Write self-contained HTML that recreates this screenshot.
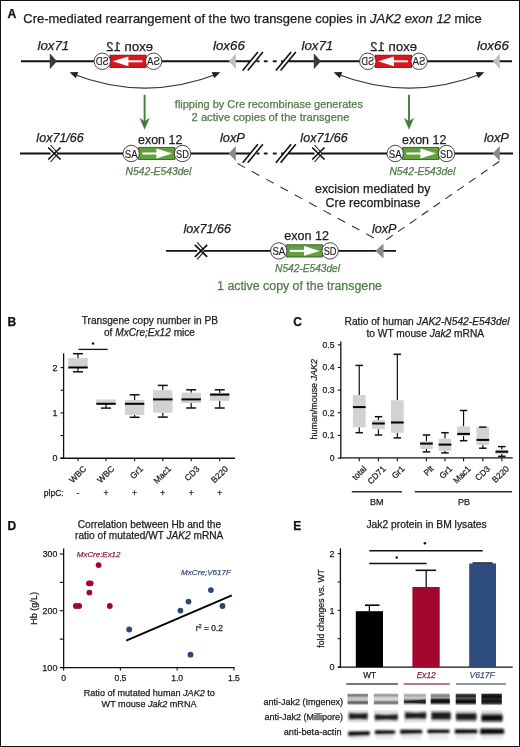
<!DOCTYPE html><html><head><meta charset="utf-8"><style>html,body{margin:0;padding:0;background:#fff;}svg{display:block;will-change:transform;filter:blur(0.3px);}text{font-family:"Liberation Sans", sans-serif;}</style></head><body>
<svg width="520" height="747" viewBox="0 0 520 747">
<rect x="0" y="0" width="520" height="747" fill="#fff"/>
<text x="7.60" y="17.6" font-size="12.2" font-weight="bold" fill="#111" stroke="#111" stroke-width="0.25">A</text>
<text x="23.35" y="22.7" font-size="12.6" fill="#1c1c1c" stroke="#1c1c1c" stroke-width="0.25" textLength="458.46" lengthAdjust="spacingAndGlyphs">Cre-mediated rearrangement of the two transgene copies in <tspan font-style="italic">JAK2 exon 12</tspan> mice</text>
<line x1="21" y1="61.3" x2="250.3" y2="61.3" stroke="#111" stroke-width="1.9" />
<line x1="288.5" y1="61.3" x2="512" y2="61.3" stroke="#111" stroke-width="1.9" />
<line x1="242.70000000000002" y1="70.6" x2="257.90000000000003" y2="52.0" stroke="#111" stroke-width="1.6" />
<line x1="247.70000000000002" y1="70.6" x2="262.90000000000003" y2="52.0" stroke="#111" stroke-width="1.6" />
<line x1="275.9" y1="70.6" x2="291.1" y2="52.0" stroke="#111" stroke-width="1.6" />
<line x1="280.59999999999997" y1="70.6" x2="295.8" y2="52.0" stroke="#111" stroke-width="1.6" />
<line x1="256.5" y1="61.3" x2="259.5" y2="61.3" stroke="#111" stroke-width="1.9" />
<line x1="263.8" y1="61.3" x2="267.6" y2="61.3" stroke="#111" stroke-width="1.9" />
<line x1="272.8" y1="61.3" x2="276.7" y2="61.3" stroke="#111" stroke-width="1.9" />
<line x1="281" y1="61.3" x2="284" y2="61.3" stroke="#111" stroke-width="1.9" />
<polygon points="49.8,53.349999999999994 56.9,61.3 49.8,69.25" fill="#383838"/>
<polygon points="235.8,53.599999999999994 228.9,61.3 235.8,69.0" fill="#bdbdbd"/>
<text x="37.55" y="50.2" font-size="12.4" font-style="italic" fill="#1c1c1c" stroke="#1c1c1c" stroke-width="0.25" textLength="31.69" lengthAdjust="spacingAndGlyphs">lox71</text>
<text x="213.00" y="50.2" font-size="12.4" font-style="italic" fill="#1c1c1c" stroke="#1c1c1c" stroke-width="0.25" textLength="31.77" lengthAdjust="spacingAndGlyphs">lox66</text>
<g transform="translate(255.89999999999998,0) scale(-1,1)">
<rect x="109.8" y="55.199999999999996" width="36.10000000000001" height="12.2" fill="#d9161e" stroke="#8c0c10" stroke-width="0.9"/>
<rect x="113.5" y="60.3" width="14.5" height="2.0" fill="#fff"/>
<polygon points="127.5,56.4 143.3,61.3 127.5,66.2" fill="#fff"/>
<circle cx="102.3" cy="61.3" r="8.2" fill="#fff" stroke="#333" stroke-width="0.9"/>
<text x="102.3" y="65.39999999999999" font-size="10.6" text-anchor="middle" fill="#1c1c1c" stroke="#1c1c1c" stroke-width="0.15" textLength="12.8" lengthAdjust="spacingAndGlyphs">SA</text>
<circle cx="153.6" cy="61.3" r="8.2" fill="#fff" stroke="#333" stroke-width="0.9"/>
<text x="153.6" y="65.39999999999999" font-size="10.6" text-anchor="middle" fill="#1c1c1c" stroke="#1c1c1c" stroke-width="0.15" textLength="12.8" lengthAdjust="spacingAndGlyphs">SD</text>
<text x="126.25" y="50.9" font-size="12.3" text-anchor="middle" fill="#1c1c1c" stroke="#1c1c1c" stroke-width="0.25" textLength="46.79" lengthAdjust="spacingAndGlyphs">exon 12</text>
</g>
<path d="M71.6,73.5 Q145.0,102.6 218.4,73.5" fill="none" stroke="#333" stroke-width="1.2"/>
<polygon points="69.6,72.2 75.82,78.22 78.25,72.08" fill="#222"/>
<polygon points="220.4,72.2 211.75,72.08 214.18,78.22" fill="#222"/>
<polygon points="313.8,53.349999999999994 320.9,61.3 313.8,69.25" fill="#383838"/>
<polygon points="499.8,53.599999999999994 492.9,61.3 499.8,69.0" fill="#bdbdbd"/>
<text x="301.55" y="50.2" font-size="12.4" font-style="italic" fill="#1c1c1c" stroke="#1c1c1c" stroke-width="0.25" textLength="31.69" lengthAdjust="spacingAndGlyphs">lox71</text>
<text x="477.00" y="50.2" font-size="12.4" font-style="italic" fill="#1c1c1c" stroke="#1c1c1c" stroke-width="0.25" textLength="31.77" lengthAdjust="spacingAndGlyphs">lox66</text>
<g transform="translate(786.9,0) scale(-1,1)">
<rect x="375.3" y="55.199999999999996" width="36.10000000000002" height="12.2" fill="#d9161e" stroke="#8c0c10" stroke-width="0.9"/>
<rect x="379.0" y="60.3" width="14.5" height="2.0" fill="#fff"/>
<polygon points="393.0,56.4 408.8,61.3 393.0,66.2" fill="#fff"/>
<circle cx="367.8" cy="61.3" r="8.2" fill="#fff" stroke="#333" stroke-width="0.9"/>
<text x="367.8" y="65.39999999999999" font-size="10.6" text-anchor="middle" fill="#1c1c1c" stroke="#1c1c1c" stroke-width="0.15" textLength="12.8" lengthAdjust="spacingAndGlyphs">SA</text>
<circle cx="419.1" cy="61.3" r="8.2" fill="#fff" stroke="#333" stroke-width="0.9"/>
<text x="419.1" y="65.39999999999999" font-size="10.6" text-anchor="middle" fill="#1c1c1c" stroke="#1c1c1c" stroke-width="0.15" textLength="12.8" lengthAdjust="spacingAndGlyphs">SD</text>
<text x="393.25" y="50.9" font-size="12.3" text-anchor="middle" fill="#1c1c1c" stroke="#1c1c1c" stroke-width="0.25" textLength="46.79" lengthAdjust="spacingAndGlyphs">exon 12</text>
</g>
<path d="M335.6,73.5 Q409.0,102.6 482.4,73.5" fill="none" stroke="#333" stroke-width="1.2"/>
<polygon points="333.6,72.2 339.82,78.22 342.25,72.08" fill="#222"/>
<polygon points="484.4,72.2 475.75,72.08 478.18,78.22" fill="#222"/>
<line x1="144.6" y1="94.7" x2="144.6" y2="122" stroke="#427d3c" stroke-width="1.9" />
<polygon points="139.9,118.3 144.6,121.6 149.29999999999998,118.3 144.6,129.2" fill="#427d3c" stroke="#427d3c" stroke-width="0.4" stroke-linejoin="round"/>
<line x1="409" y1="94.7" x2="409" y2="122" stroke="#427d3c" stroke-width="1.9" />
<polygon points="404.3,118.3 409,121.6 413.7,118.3 409,129.2" fill="#427d3c" stroke="#427d3c" stroke-width="0.4" stroke-linejoin="round"/>
<text x="268.88" y="108" font-size="11" text-anchor="middle" fill="#537a4b" stroke="#537a4b" stroke-width="0.25" textLength="188.08" lengthAdjust="spacingAndGlyphs">flipping by Cre recombinase generates</text>
<text x="270.50" y="121.3" font-size="11" text-anchor="middle" fill="#537a4b" stroke="#537a4b" stroke-width="0.25" textLength="157.84" lengthAdjust="spacingAndGlyphs">2 active copies of the transgene</text>
<line x1="20" y1="153.5" x2="250.3" y2="153.5" stroke="#111" stroke-width="1.9" />
<line x1="288.5" y1="153.5" x2="513" y2="153.5" stroke="#111" stroke-width="1.9" />
<line x1="242.70000000000002" y1="162.8" x2="257.90000000000003" y2="144.2" stroke="#111" stroke-width="1.6" />
<line x1="247.70000000000002" y1="162.8" x2="262.90000000000003" y2="144.2" stroke="#111" stroke-width="1.6" />
<line x1="275.9" y1="162.8" x2="291.1" y2="144.2" stroke="#111" stroke-width="1.6" />
<line x1="280.59999999999997" y1="162.8" x2="295.8" y2="144.2" stroke="#111" stroke-width="1.6" />
<line x1="256.5" y1="153.5" x2="259.5" y2="153.5" stroke="#111" stroke-width="1.9" />
<line x1="263.8" y1="153.5" x2="267.6" y2="153.5" stroke="#111" stroke-width="1.9" />
<line x1="272.8" y1="153.5" x2="276.7" y2="153.5" stroke="#111" stroke-width="1.9" />
<line x1="281" y1="153.5" x2="284" y2="153.5" stroke="#111" stroke-width="1.9" />
<polygon points="50.5,145.0 58.0,153.5 50.5,162.0" fill="#fff"/>
<polyline points="50.5,145.0 58.0,153.5 50.5,162.0" fill="none" stroke="#1a1a1a" stroke-width="1.1"/>
<line x1="48.2" y1="147.5" x2="60.5" y2="159.5" stroke="#111" stroke-width="1.7" />
<line x1="48.2" y1="159.5" x2="60.5" y2="147.5" stroke="#111" stroke-width="1.7" />
<text x="36.38" y="141.8" font-size="12.3" font-style="italic" fill="#1c1c1c" stroke="#1c1c1c" stroke-width="0.25" textLength="47.45" lengthAdjust="spacingAndGlyphs">lox71/66</text>
<rect x="138.7" y="147.4" width="36.099999999999994" height="12.2" fill="#62a03e" stroke="#2f5c20" stroke-width="0.9"/>
<rect x="142.39999999999998" y="152.5" width="14.5" height="2.0" fill="#fff"/>
<polygon points="156.39999999999998,148.6 172.2,153.5 156.39999999999998,158.4" fill="#fff"/>
<circle cx="131.2" cy="153.5" r="8.2" fill="#fff" stroke="#333" stroke-width="0.9"/>
<text x="131.2" y="157.6" font-size="10.6" text-anchor="middle" fill="#1c1c1c" stroke="#1c1c1c" stroke-width="0.15" textLength="12.8" lengthAdjust="spacingAndGlyphs">SA</text>
<circle cx="182.5" cy="153.5" r="8.2" fill="#fff" stroke="#333" stroke-width="0.9"/>
<text x="182.5" y="157.6" font-size="10.6" text-anchor="middle" fill="#1c1c1c" stroke="#1c1c1c" stroke-width="0.15" textLength="12.8" lengthAdjust="spacingAndGlyphs">SD</text>
<text x="160.20" y="143.7" font-size="12.3" text-anchor="middle" fill="#1c1c1c" stroke="#1c1c1c" stroke-width="0.25" textLength="44.23" lengthAdjust="spacingAndGlyphs">exon 12</text>
<text x="158.48" y="174.5" font-size="10.1" text-anchor="middle" font-style="italic" fill="#537a4b" stroke="#537a4b" stroke-width="0.25" textLength="65.85" lengthAdjust="spacingAndGlyphs">N542-E543del</text>
<polygon points="235.8,146.0 228.6,153.5 235.8,161.0" fill="#8a8a8a"/>
<text x="219.92" y="142" font-size="12.3" font-style="italic" fill="#1c1c1c" stroke="#1c1c1c" stroke-width="0.25" textLength="25.02" lengthAdjust="spacingAndGlyphs">loxP</text>
<polygon points="314.5,145.0 322.0,153.5 314.5,162.0" fill="#fff"/>
<polyline points="314.5,145.0 322.0,153.5 314.5,162.0" fill="none" stroke="#1a1a1a" stroke-width="1.1"/>
<line x1="312.2" y1="147.5" x2="324.5" y2="159.5" stroke="#111" stroke-width="1.7" />
<line x1="312.2" y1="159.5" x2="324.5" y2="147.5" stroke="#111" stroke-width="1.7" />
<text x="300.38" y="141.8" font-size="12.3" font-style="italic" fill="#1c1c1c" stroke="#1c1c1c" stroke-width="0.25" textLength="47.45" lengthAdjust="spacingAndGlyphs">lox71/66</text>
<rect x="402.7" y="147.4" width="36.10000000000002" height="12.2" fill="#62a03e" stroke="#2f5c20" stroke-width="0.9"/>
<rect x="406.4" y="152.5" width="14.5" height="2.0" fill="#fff"/>
<polygon points="420.4,148.6 436.2,153.5 420.4,158.4" fill="#fff"/>
<circle cx="395.2" cy="153.5" r="8.2" fill="#fff" stroke="#333" stroke-width="0.9"/>
<text x="395.2" y="157.6" font-size="10.6" text-anchor="middle" fill="#1c1c1c" stroke="#1c1c1c" stroke-width="0.15" textLength="12.8" lengthAdjust="spacingAndGlyphs">SA</text>
<circle cx="446.5" cy="153.5" r="8.2" fill="#fff" stroke="#333" stroke-width="0.9"/>
<text x="446.5" y="157.6" font-size="10.6" text-anchor="middle" fill="#1c1c1c" stroke="#1c1c1c" stroke-width="0.15" textLength="12.8" lengthAdjust="spacingAndGlyphs">SD</text>
<text x="424.20" y="143.7" font-size="12.3" text-anchor="middle" fill="#1c1c1c" stroke="#1c1c1c" stroke-width="0.25" textLength="44.22" lengthAdjust="spacingAndGlyphs">exon 12</text>
<text x="422.35" y="174.5" font-size="10.1" text-anchor="middle" font-style="italic" fill="#537a4b" stroke="#537a4b" stroke-width="0.25" textLength="65.85" lengthAdjust="spacingAndGlyphs">N542-E543del</text>
<polygon points="499.8,146.0 492.6,153.5 499.8,161.0" fill="#8a8a8a"/>
<text x="483.92" y="142" font-size="12.3" font-style="italic" fill="#1c1c1c" stroke="#1c1c1c" stroke-width="0.25" textLength="25.02" lengthAdjust="spacingAndGlyphs">loxP</text>
<line x1="237.5" y1="163.5" x2="378" y2="240.2" stroke="#333" stroke-width="1.1" stroke-dasharray="8.6 7.7"/>
<line x1="499.3" y1="161.5" x2="384.5" y2="241.0" stroke="#333" stroke-width="1.1" stroke-dasharray="8.0 6.4"/>
<text x="372.75" y="193.2" font-size="12.3" text-anchor="middle" fill="#1c1c1c" stroke="#1c1c1c" stroke-width="0.25" textLength="115.35" lengthAdjust="spacingAndGlyphs">excision mediated by</text>
<text x="373.00" y="207.2" font-size="12.3" text-anchor="middle" fill="#1c1c1c" stroke="#1c1c1c" stroke-width="0.25" textLength="94.91" lengthAdjust="spacingAndGlyphs">Cre recombinase</text>
<line x1="166" y1="250.9" x2="396" y2="250.9" stroke="#111" stroke-width="1.9" />
<polygon points="197.2,242.4 204.7,250.9 197.2,259.4" fill="#fff"/>
<polyline points="197.2,242.4 204.7,250.9 197.2,259.4" fill="none" stroke="#1a1a1a" stroke-width="1.1"/>
<line x1="194.89999999999998" y1="244.9" x2="207.2" y2="256.9" stroke="#111" stroke-width="1.7" />
<line x1="194.89999999999998" y1="256.9" x2="207.2" y2="244.9" stroke="#111" stroke-width="1.7" />
<text x="183.45" y="233" font-size="12.3" font-style="italic" fill="#1c1c1c" stroke="#1c1c1c" stroke-width="0.25" textLength="47.50" lengthAdjust="spacingAndGlyphs">lox71/66</text>
<rect x="286.3" y="244.8" width="36.10000000000002" height="12.2" fill="#62a03e" stroke="#2f5c20" stroke-width="0.9"/>
<rect x="290.0" y="249.9" width="14.5" height="2.0" fill="#fff"/>
<polygon points="304.0,246.0 319.8,250.9 304.0,255.8" fill="#fff"/>
<circle cx="278.8" cy="250.9" r="8.2" fill="#fff" stroke="#333" stroke-width="0.9"/>
<text x="278.8" y="255.0" font-size="10.6" text-anchor="middle" fill="#1c1c1c" stroke="#1c1c1c" stroke-width="0.15" textLength="12.8" lengthAdjust="spacingAndGlyphs">SA</text>
<circle cx="330.1" cy="250.9" r="8.2" fill="#fff" stroke="#333" stroke-width="0.9"/>
<text x="330.1" y="255.0" font-size="10.6" text-anchor="middle" fill="#1c1c1c" stroke="#1c1c1c" stroke-width="0.15" textLength="12.8" lengthAdjust="spacingAndGlyphs">SD</text>
<text x="306.70" y="240.3" font-size="12.3" text-anchor="middle" fill="#1c1c1c" stroke="#1c1c1c" stroke-width="0.25" textLength="44.64" lengthAdjust="spacingAndGlyphs">exon 12</text>
<text x="307.53" y="271.9" font-size="10.1" text-anchor="middle" font-style="italic" fill="#537a4b" stroke="#537a4b" stroke-width="0.25" textLength="64.90" lengthAdjust="spacingAndGlyphs">N542-E543del</text>
<polygon points="383.5,243.4 375.3,250.9 383.5,258.4" fill="#8a8a8a"/>
<text x="371.92" y="233.4" font-size="12.3" font-style="italic" fill="#1c1c1c" stroke="#1c1c1c" stroke-width="0.25" textLength="24.57" lengthAdjust="spacingAndGlyphs">loxP</text>
<text x="299.50" y="289.5" font-size="12.3" text-anchor="middle" fill="#537a4b" stroke="#537a4b" stroke-width="0.25" textLength="164.83" lengthAdjust="spacingAndGlyphs">1 active copy of the transgene</text>
<text x="7.60" y="326.3" font-size="12" font-weight="bold" fill="#111" stroke="#111" stroke-width="0.25">B</text>
<text x="149.85" y="324.4" font-size="10.1" text-anchor="middle" fill="#1c1c1c" stroke="#1c1c1c" stroke-width="0.25" textLength="136.27" lengthAdjust="spacingAndGlyphs">Transgene copy number in PB</text>
<text x="149.50" y="335.7" font-size="10.1" text-anchor="middle" fill="#1c1c1c" stroke="#1c1c1c" stroke-width="0.25" textLength="90.99" lengthAdjust="spacingAndGlyphs">of <tspan font-style="italic">MxCre;Ex12</tspan> mice</text>
<line x1="63.6" y1="353.3" x2="63.6" y2="458.8" stroke="#111" stroke-width="1.3" />
<line x1="60.3" y1="458.2" x2="235" y2="458.2" stroke="#111" stroke-width="1.4" />
<line x1="60.5" y1="458.2" x2="63.6" y2="458.2" stroke="#111" stroke-width="1.1" />
<text x="57.40" y="461.4" font-size="9" text-anchor="end" fill="#1c1c1c" stroke="#1c1c1c" stroke-width="0.25">0</text>
<line x1="60.5" y1="435.55" x2="63.6" y2="435.55" stroke="#111" stroke-width="1.1" />
<line x1="60.5" y1="412.9" x2="63.6" y2="412.9" stroke="#111" stroke-width="1.1" />
<text x="57.40" y="416.09999999999997" font-size="9" text-anchor="end" fill="#1c1c1c" stroke="#1c1c1c" stroke-width="0.25">1</text>
<line x1="60.5" y1="390.25" x2="63.6" y2="390.25" stroke="#111" stroke-width="1.1" />
<line x1="60.5" y1="367.6" x2="63.6" y2="367.6" stroke="#111" stroke-width="1.1" />
<text x="57.40" y="370.8" font-size="9" text-anchor="end" fill="#1c1c1c" stroke="#1c1c1c" stroke-width="0.25">2</text>
<line x1="78.0" y1="353.7" x2="78.0" y2="358" stroke="#111" stroke-width="1.2" />
<line x1="78.0" y1="367.5" x2="78.0" y2="371.8" stroke="#111" stroke-width="1.2" />
<rect x="68.3" y="358" width="19.4" height="9.5" fill="#d2d2d2"/>
<line x1="73.0" y1="353.7" x2="83.0" y2="353.7" stroke="#111" stroke-width="1.5" />
<line x1="73.0" y1="371.8" x2="83.0" y2="371.8" stroke="#111" stroke-width="1.5" />
<line x1="68.3" y1="367.5" x2="87.69999999999999" y2="367.5" stroke="#000" stroke-width="2.0" />
<line x1="78.0" y1="458.2" x2="78.0" y2="461.3" stroke="#111" stroke-width="1.1" />
<text transform="translate(86.9,469.5) rotate(-45)" font-size="8.5" text-anchor="end" font-style="normal" fill="#1c1c1c" stroke="#1c1c1c" stroke-width="0.25">WBC</text>
<text x="78.00" y="495.8" font-size="8.5" text-anchor="middle" fill="#1c1c1c" stroke="#1c1c1c" stroke-width="0.25">-</text>
<line x1="106.0" y1="403.8" x2="106.0" y2="408.1" stroke="#111" stroke-width="1.2" />
<rect x="96.3" y="399.5" width="19.4" height="4.300000000000011" fill="#d2d2d2"/>
<line x1="101.0" y1="408.1" x2="111.0" y2="408.1" stroke="#111" stroke-width="1.5" />
<line x1="96.3" y1="403.8" x2="115.69999999999999" y2="403.8" stroke="#000" stroke-width="2.0" />
<line x1="106.0" y1="458.2" x2="106.0" y2="461.3" stroke="#111" stroke-width="1.1" />
<text transform="translate(114.9,469.5) rotate(-45)" font-size="8.5" text-anchor="end" font-style="normal" fill="#1c1c1c" stroke="#1c1c1c" stroke-width="0.25">WBC</text>
<text x="106.00" y="495.8" font-size="8.5" text-anchor="middle" fill="#1c1c1c" stroke="#1c1c1c" stroke-width="0.25">+</text>
<line x1="134.6" y1="394.8" x2="134.6" y2="400" stroke="#111" stroke-width="1.2" />
<line x1="134.6" y1="415" x2="134.6" y2="417.3" stroke="#111" stroke-width="1.2" />
<rect x="124.9" y="400" width="19.4" height="15" fill="#d2d2d2"/>
<line x1="129.6" y1="394.8" x2="139.6" y2="394.8" stroke="#111" stroke-width="1.5" />
<line x1="129.6" y1="417.3" x2="139.6" y2="417.3" stroke="#111" stroke-width="1.5" />
<line x1="124.9" y1="403.8" x2="144.3" y2="403.8" stroke="#000" stroke-width="2.0" />
<line x1="134.6" y1="458.2" x2="134.6" y2="461.3" stroke="#111" stroke-width="1.1" />
<text transform="translate(143.5,469.5) rotate(-45)" font-size="8.5" text-anchor="end" font-style="normal" fill="#1c1c1c" stroke="#1c1c1c" stroke-width="0.25">Gr1</text>
<text x="134.60" y="495.8" font-size="8.5" text-anchor="middle" fill="#1c1c1c" stroke="#1c1c1c" stroke-width="0.25">+</text>
<line x1="162.79999999999998" y1="385.4" x2="162.79999999999998" y2="390.2" stroke="#111" stroke-width="1.2" />
<line x1="162.79999999999998" y1="412.7" x2="162.79999999999998" y2="417.1" stroke="#111" stroke-width="1.2" />
<rect x="153.1" y="390.2" width="19.4" height="22.5" fill="#d2d2d2"/>
<line x1="157.79999999999998" y1="385.4" x2="167.79999999999998" y2="385.4" stroke="#111" stroke-width="1.5" />
<line x1="157.79999999999998" y1="417.1" x2="167.79999999999998" y2="417.1" stroke="#111" stroke-width="1.5" />
<line x1="153.1" y1="399.4" x2="172.5" y2="399.4" stroke="#000" stroke-width="2.0" />
<line x1="162.79999999999998" y1="458.2" x2="162.79999999999998" y2="461.3" stroke="#111" stroke-width="1.1" />
<text transform="translate(171.7,469.5) rotate(-45)" font-size="8.5" text-anchor="end" font-style="normal" fill="#1c1c1c" stroke="#1c1c1c" stroke-width="0.25">Mac1</text>
<text x="162.80" y="495.8" font-size="8.5" text-anchor="middle" fill="#1c1c1c" stroke="#1c1c1c" stroke-width="0.25">+</text>
<line x1="191.2" y1="389.8" x2="191.2" y2="392.7" stroke="#111" stroke-width="1.2" />
<line x1="191.2" y1="403" x2="191.2" y2="408" stroke="#111" stroke-width="1.2" />
<rect x="181.5" y="392.7" width="19.4" height="10.300000000000011" fill="#d2d2d2"/>
<line x1="186.2" y1="389.8" x2="196.2" y2="389.8" stroke="#111" stroke-width="1.5" />
<line x1="186.2" y1="408" x2="196.2" y2="408" stroke="#111" stroke-width="1.5" />
<line x1="181.5" y1="399.4" x2="200.9" y2="399.4" stroke="#000" stroke-width="2.0" />
<line x1="191.2" y1="458.2" x2="191.2" y2="461.3" stroke="#111" stroke-width="1.1" />
<text transform="translate(200.1,469.5) rotate(-45)" font-size="8.5" text-anchor="end" font-style="normal" fill="#1c1c1c" stroke="#1c1c1c" stroke-width="0.25">CD3</text>
<text x="191.20" y="495.8" font-size="8.5" text-anchor="middle" fill="#1c1c1c" stroke="#1c1c1c" stroke-width="0.25">+</text>
<line x1="219.7" y1="389.8" x2="219.7" y2="393" stroke="#111" stroke-width="1.2" />
<line x1="219.7" y1="400.8" x2="219.7" y2="408" stroke="#111" stroke-width="1.2" />
<rect x="210" y="393" width="19.4" height="7.800000000000011" fill="#d2d2d2"/>
<line x1="214.7" y1="389.8" x2="224.7" y2="389.8" stroke="#111" stroke-width="1.5" />
<line x1="214.7" y1="408" x2="224.7" y2="408" stroke="#111" stroke-width="1.5" />
<line x1="210" y1="394.6" x2="229.4" y2="394.6" stroke="#000" stroke-width="2.0" />
<line x1="219.7" y1="458.2" x2="219.7" y2="461.3" stroke="#111" stroke-width="1.1" />
<text transform="translate(228.6,469.5) rotate(-45)" font-size="8.5" text-anchor="end" font-style="normal" fill="#1c1c1c" stroke="#1c1c1c" stroke-width="0.25">B220</text>
<text x="219.70" y="495.8" font-size="8.5" text-anchor="middle" fill="#1c1c1c" stroke="#1c1c1c" stroke-width="0.25">+</text>
<text x="43.77" y="495.8" font-size="8.5" fill="#1c1c1c" stroke="#1c1c1c" stroke-width="0.25" textLength="19.90" lengthAdjust="spacingAndGlyphs">plpC:</text>
<line x1="78.5" y1="349.4" x2="107.7" y2="349.4" stroke="#111" stroke-width="1.3" />
<circle cx="93.1" cy="343.6" r="1.25" fill="#111"/>
<text x="293.20" y="326.3" font-size="12" font-weight="bold" fill="#111" stroke="#111" stroke-width="0.25">C</text>
<text x="427.08" y="324.6" font-size="10.2" text-anchor="middle" fill="#1c1c1c" stroke="#1c1c1c" stroke-width="0.25" textLength="165.06" lengthAdjust="spacingAndGlyphs">Ratio of human <tspan font-style="italic">JAK2-N542-E543del</tspan></text>
<text x="425.30" y="337.4" font-size="10.2" text-anchor="middle" fill="#1c1c1c" stroke="#1c1c1c" stroke-width="0.25" textLength="117.64" lengthAdjust="spacingAndGlyphs">to WT mouse <tspan font-style="italic">Jak2</tspan> mRNA</text>
<line x1="340.8" y1="341.5" x2="340.8" y2="458.6" stroke="#111" stroke-width="1.3" />
<line x1="340.2" y1="457.9" x2="512.8" y2="457.9" stroke="#111" stroke-width="1.4" />
<line x1="337.8" y1="458.1" x2="340.8" y2="458.1" stroke="#111" stroke-width="1.1" />
<text x="334.50" y="461.1" font-size="8.6" text-anchor="end" fill="#1c1c1c" stroke="#1c1c1c" stroke-width="0.25">0</text>
<line x1="337.8" y1="435.44" x2="340.8" y2="435.44" stroke="#111" stroke-width="1.1" />
<text x="334.50" y="438.44" font-size="8.6" text-anchor="end" fill="#1c1c1c" stroke="#1c1c1c" stroke-width="0.25">0.1</text>
<line x1="337.8" y1="412.78000000000003" x2="340.8" y2="412.78000000000003" stroke="#111" stroke-width="1.1" />
<text x="334.50" y="415.78000000000003" font-size="8.6" text-anchor="end" fill="#1c1c1c" stroke="#1c1c1c" stroke-width="0.25">0.2</text>
<line x1="337.8" y1="390.12" x2="340.8" y2="390.12" stroke="#111" stroke-width="1.1" />
<text x="334.50" y="393.12" font-size="8.6" text-anchor="end" fill="#1c1c1c" stroke="#1c1c1c" stroke-width="0.25">0.3</text>
<line x1="337.8" y1="367.46000000000004" x2="340.8" y2="367.46000000000004" stroke="#111" stroke-width="1.1" />
<text x="334.50" y="370.46000000000004" font-size="8.6" text-anchor="end" fill="#1c1c1c" stroke="#1c1c1c" stroke-width="0.25">0.4</text>
<line x1="337.8" y1="344.8" x2="340.8" y2="344.8" stroke="#111" stroke-width="1.1" />
<text x="334.50" y="347.8" font-size="8.6" text-anchor="end" fill="#1c1c1c" stroke="#1c1c1c" stroke-width="0.25">0.5</text>
<text transform="translate(317.4,399.3) rotate(-90)" font-size="9.6" text-anchor="middle" fill="#1c1c1c" stroke="#1c1c1c" stroke-width="0.25" textLength="80.4" lengthAdjust="spacingAndGlyphs">human/mouse <tspan font-style="italic">JAK2</tspan></text>
<line x1="359.25" y1="365.4" x2="359.25" y2="395" stroke="#111" stroke-width="1.2" />
<line x1="359.25" y1="427.3" x2="359.25" y2="432.7" stroke="#111" stroke-width="1.2" />
<rect x="352.9" y="395" width="12.7" height="32.30000000000001" fill="#d2d2d2"/>
<line x1="355.5" y1="365.4" x2="363.0" y2="365.4" stroke="#111" stroke-width="1.5" />
<line x1="355.5" y1="432.7" x2="363.0" y2="432.7" stroke="#111" stroke-width="1.5" />
<line x1="352.9" y1="407.1" x2="365.59999999999997" y2="407.1" stroke="#000" stroke-width="2.0" />
<line x1="359.25" y1="457.9" x2="359.25" y2="461.2" stroke="#111" stroke-width="1.1" />
<text transform="translate(367.05,469.3) rotate(-45)" font-size="8.5" text-anchor="end" font-style="normal" fill="#1c1c1c" stroke="#1c1c1c" stroke-width="0.25">total</text>
<line x1="378.45000000000005" y1="416.7" x2="378.45000000000005" y2="420" stroke="#111" stroke-width="1.2" />
<line x1="378.45000000000005" y1="429.2" x2="378.45000000000005" y2="435" stroke="#111" stroke-width="1.2" />
<rect x="372.1" y="420" width="12.7" height="9.199999999999989" fill="#d2d2d2"/>
<line x1="374.70000000000005" y1="416.7" x2="382.20000000000005" y2="416.7" stroke="#111" stroke-width="1.5" />
<line x1="374.70000000000005" y1="435" x2="382.20000000000005" y2="435" stroke="#111" stroke-width="1.5" />
<line x1="372.1" y1="423.5" x2="384.8" y2="423.5" stroke="#000" stroke-width="2.0" />
<line x1="378.45000000000005" y1="457.9" x2="378.45000000000005" y2="461.2" stroke="#111" stroke-width="1.1" />
<text transform="translate(386.25000000000006,469.3) rotate(-45)" font-size="8.5" text-anchor="end" font-style="normal" fill="#1c1c1c" stroke="#1c1c1c" stroke-width="0.25">CD71</text>
<line x1="397.35" y1="354.3" x2="397.35" y2="400.3" stroke="#111" stroke-width="1.2" />
<line x1="397.35" y1="432.8" x2="397.35" y2="437.9" stroke="#111" stroke-width="1.2" />
<rect x="391" y="400.3" width="12.7" height="32.5" fill="#d2d2d2"/>
<line x1="393.6" y1="354.3" x2="401.1" y2="354.3" stroke="#111" stroke-width="1.5" />
<line x1="393.6" y1="437.9" x2="401.1" y2="437.9" stroke="#111" stroke-width="1.5" />
<line x1="391" y1="422.5" x2="403.7" y2="422.5" stroke="#000" stroke-width="2.0" />
<line x1="397.35" y1="457.9" x2="397.35" y2="461.2" stroke="#111" stroke-width="1.1" />
<text transform="translate(405.15000000000003,469.3) rotate(-45)" font-size="8.5" text-anchor="end" font-style="normal" fill="#1c1c1c" stroke="#1c1c1c" stroke-width="0.25">Gr1</text>
<line x1="426.45000000000005" y1="435" x2="426.45000000000005" y2="441.3" stroke="#111" stroke-width="1.2" />
<line x1="426.45000000000005" y1="449" x2="426.45000000000005" y2="451.9" stroke="#111" stroke-width="1.2" />
<rect x="420.1" y="441.3" width="12.7" height="7.699999999999989" fill="#d2d2d2"/>
<line x1="422.70000000000005" y1="435" x2="430.20000000000005" y2="435" stroke="#111" stroke-width="1.5" />
<line x1="422.70000000000005" y1="451.9" x2="430.20000000000005" y2="451.9" stroke="#111" stroke-width="1.5" />
<line x1="420.1" y1="443.6" x2="432.8" y2="443.6" stroke="#000" stroke-width="2.0" />
<line x1="426.45000000000005" y1="457.9" x2="426.45000000000005" y2="461.2" stroke="#111" stroke-width="1.1" />
<text transform="translate(434.25000000000006,469.3) rotate(-45)" font-size="8.5" text-anchor="end" font-style="normal" fill="#1c1c1c" stroke="#1c1c1c" stroke-width="0.25">Plt</text>
<line x1="444.95000000000005" y1="432.7" x2="444.95000000000005" y2="438.6" stroke="#111" stroke-width="1.2" />
<line x1="444.95000000000005" y1="450.8" x2="444.95000000000005" y2="452.9" stroke="#111" stroke-width="1.2" />
<rect x="438.6" y="438.6" width="12.7" height="12.199999999999989" fill="#d2d2d2"/>
<line x1="441.20000000000005" y1="432.7" x2="448.70000000000005" y2="432.7" stroke="#111" stroke-width="1.5" />
<line x1="441.20000000000005" y1="452.9" x2="448.70000000000005" y2="452.9" stroke="#111" stroke-width="1.5" />
<line x1="438.6" y1="444.6" x2="451.3" y2="444.6" stroke="#000" stroke-width="2.0" />
<line x1="444.95000000000005" y1="457.9" x2="444.95000000000005" y2="461.2" stroke="#111" stroke-width="1.1" />
<text transform="translate(452.75000000000006,469.3) rotate(-45)" font-size="8.5" text-anchor="end" font-style="normal" fill="#1c1c1c" stroke="#1c1c1c" stroke-width="0.25">Gr1</text>
<line x1="463.55" y1="410.5" x2="463.55" y2="426.4" stroke="#111" stroke-width="1.2" />
<line x1="463.55" y1="436" x2="463.55" y2="440.7" stroke="#111" stroke-width="1.2" />
<rect x="457.2" y="426.4" width="12.7" height="9.600000000000023" fill="#d2d2d2"/>
<line x1="459.8" y1="410.5" x2="467.3" y2="410.5" stroke="#111" stroke-width="1.5" />
<line x1="459.8" y1="440.7" x2="467.3" y2="440.7" stroke="#111" stroke-width="1.5" />
<line x1="457.2" y1="433.9" x2="469.9" y2="433.9" stroke="#000" stroke-width="2.0" />
<line x1="463.55" y1="457.9" x2="463.55" y2="461.2" stroke="#111" stroke-width="1.1" />
<text transform="translate(471.35,469.3) rotate(-45)" font-size="8.5" text-anchor="end" font-style="normal" fill="#1c1c1c" stroke="#1c1c1c" stroke-width="0.25">Mac1</text>
<line x1="482.85" y1="445" x2="482.85" y2="448.2" stroke="#111" stroke-width="1.2" />
<rect x="476.5" y="427.1" width="12.7" height="17.899999999999977" fill="#d2d2d2"/>
<line x1="479.1" y1="427.1" x2="486.6" y2="427.1" stroke="#111" stroke-width="1.5" />
<line x1="479.1" y1="448.2" x2="486.6" y2="448.2" stroke="#111" stroke-width="1.5" />
<line x1="476.5" y1="439.9" x2="489.2" y2="439.9" stroke="#000" stroke-width="2.0" />
<line x1="482.85" y1="457.9" x2="482.85" y2="461.2" stroke="#111" stroke-width="1.1" />
<text transform="translate(490.65000000000003,469.3) rotate(-45)" font-size="8.5" text-anchor="end" font-style="normal" fill="#1c1c1c" stroke="#1c1c1c" stroke-width="0.25">CD3</text>
<line x1="501.85" y1="446.6" x2="501.85" y2="449.6" stroke="#111" stroke-width="1.2" />
<line x1="501.85" y1="454" x2="501.85" y2="456.3" stroke="#111" stroke-width="1.2" />
<rect x="495.5" y="449.6" width="12.7" height="4.399999999999977" fill="#d2d2d2"/>
<line x1="498.1" y1="446.6" x2="505.6" y2="446.6" stroke="#111" stroke-width="1.5" />
<line x1="498.1" y1="456.3" x2="505.6" y2="456.3" stroke="#111" stroke-width="1.5" />
<line x1="495.5" y1="451.7" x2="508.2" y2="451.7" stroke="#000" stroke-width="2.0" />
<line x1="501.85" y1="457.9" x2="501.85" y2="461.2" stroke="#111" stroke-width="1.1" />
<text transform="translate(509.65000000000003,469.3) rotate(-45)" font-size="8.5" text-anchor="end" font-style="normal" fill="#1c1c1c" stroke="#1c1c1c" stroke-width="0.25">B220</text>
<line x1="351.8" y1="491.8" x2="402" y2="491.8" stroke="#333" stroke-width="1.5" />
<line x1="414.7" y1="491.8" x2="512" y2="491.8" stroke="#333" stroke-width="1.5" />
<text x="376.70" y="504.6" font-size="9" text-anchor="middle" fill="#1c1c1c" stroke="#1c1c1c" stroke-width="0.25">BM</text>
<text x="464.00" y="504.6" font-size="9" text-anchor="middle" fill="#1c1c1c" stroke="#1c1c1c" stroke-width="0.25">PB</text>
<text x="7.60" y="530" font-size="12" font-weight="bold" fill="#111" stroke="#111" stroke-width="0.25">D</text>
<text x="149.42" y="528" font-size="10.1" text-anchor="middle" fill="#1c1c1c" stroke="#1c1c1c" stroke-width="0.25" textLength="143.39" lengthAdjust="spacingAndGlyphs">Correlation between Hb and the</text>
<text x="149.17" y="539.4" font-size="10.1" text-anchor="middle" fill="#1c1c1c" stroke="#1c1c1c" stroke-width="0.25" textLength="148.24" lengthAdjust="spacingAndGlyphs">ratio of mutated/WT <tspan font-style="italic">JAK2</tspan> mRNA</text>
<line x1="63.65" y1="548.5" x2="63.65" y2="668.2" stroke="#111" stroke-width="1.3" />
<line x1="60.3" y1="667.6" x2="234.5" y2="667.6" stroke="#111" stroke-width="1.4" />
<line x1="59.8" y1="667.5" x2="63.65" y2="667.5" stroke="#111" stroke-width="1.1" />
<text x="57.48" y="670.7" font-size="9" text-anchor="end" fill="#1c1c1c" stroke="#1c1c1c" stroke-width="0.25" textLength="15.14" lengthAdjust="spacingAndGlyphs">100</text>
<line x1="59.8" y1="639.125" x2="63.65" y2="639.125" stroke="#111" stroke-width="1.1" />
<line x1="59.8" y1="610.75" x2="63.65" y2="610.75" stroke="#111" stroke-width="1.1" />
<text x="57.48" y="613.95" font-size="9" text-anchor="end" fill="#1c1c1c" stroke="#1c1c1c" stroke-width="0.25" textLength="14.88" lengthAdjust="spacingAndGlyphs">200</text>
<line x1="59.8" y1="582.375" x2="63.65" y2="582.375" stroke="#111" stroke-width="1.1" />
<line x1="59.8" y1="554.0" x2="63.65" y2="554.0" stroke="#111" stroke-width="1.1" />
<text x="57.35" y="557.2" font-size="9" text-anchor="end" fill="#1c1c1c" stroke="#1c1c1c" stroke-width="0.25" textLength="14.62" lengthAdjust="spacingAndGlyphs">300</text>
<line x1="63.65" y1="667.6" x2="63.65" y2="670.6" stroke="#111" stroke-width="1.1" />
<text x="63.65" y="680.9" font-size="8.6" text-anchor="middle" fill="#1c1c1c" stroke="#1c1c1c" stroke-width="0.25">0</text>
<line x1="120.4" y1="667.6" x2="120.4" y2="670.6" stroke="#111" stroke-width="1.1" />
<text x="120.40" y="680.9" font-size="8.6" text-anchor="middle" fill="#1c1c1c" stroke="#1c1c1c" stroke-width="0.25">0.5</text>
<line x1="177.15" y1="667.6" x2="177.15" y2="670.6" stroke="#111" stroke-width="1.1" />
<text x="177.15" y="680.9" font-size="8.6" text-anchor="middle" fill="#1c1c1c" stroke="#1c1c1c" stroke-width="0.25">1.0</text>
<line x1="233.9" y1="667.6" x2="233.9" y2="670.6" stroke="#111" stroke-width="1.1" />
<text x="233.90" y="680.9" font-size="8.6" text-anchor="middle" fill="#1c1c1c" stroke="#1c1c1c" stroke-width="0.25">1.5</text>
<text transform="translate(37.0,608.4) rotate(-90)" font-size="9.6" text-anchor="middle" fill="#1c1c1c" stroke="#1c1c1c" stroke-width="0.25" textLength="32.6" lengthAdjust="spacingAndGlyphs">Hb (g/L)</text>
<text x="149.30" y="695.9" font-size="9" text-anchor="middle" fill="#1c1c1c" stroke="#1c1c1c" stroke-width="0.25" textLength="131.05" lengthAdjust="spacingAndGlyphs">Ratio of mutated human <tspan font-style="italic">JAK2</tspan> to</text>
<text x="149.10" y="707.4" font-size="9" text-anchor="middle" fill="#1c1c1c" stroke="#1c1c1c" stroke-width="0.25" textLength="95.01" lengthAdjust="spacingAndGlyphs">WT mouse <tspan font-style="italic">Jak2</tspan> mRNA</text>
<text x="76.82" y="557" font-size="7.9" font-style="italic" fill="#8a2347" stroke="#8a2347" stroke-width="0.25" textLength="43.62" lengthAdjust="spacingAndGlyphs">MxCre:Ex12</text>
<text x="181.05" y="575" font-size="8.1" font-style="italic" fill="#44537a" stroke="#44537a" stroke-width="0.25" textLength="49.94" lengthAdjust="spacingAndGlyphs">MxCre;V617F</text>
<circle cx="98.6" cy="565.1" r="2.9" fill="#a0072b"/>
<circle cx="88.9" cy="583.3" r="2.9" fill="#a0072b"/>
<circle cx="90.7" cy="583.3" r="2.9" fill="#a0072b"/>
<circle cx="89.4" cy="592.6" r="2.9" fill="#a0072b"/>
<circle cx="75.9" cy="606" r="2.9" fill="#a0072b"/>
<circle cx="79.1" cy="606" r="2.9" fill="#a0072b"/>
<circle cx="109.8" cy="606" r="2.9" fill="#a0072b"/>
<circle cx="129.2" cy="629.5" r="2.9" fill="#2c4574"/>
<circle cx="180.4" cy="610.6" r="2.9" fill="#2c4574"/>
<circle cx="188.5" cy="601.6" r="2.9" fill="#2c4574"/>
<circle cx="210.9" cy="590.1" r="2.9" fill="#2c4574"/>
<circle cx="222.5" cy="606" r="2.9" fill="#2c4574"/>
<circle cx="190.5" cy="654.7" r="2.9" fill="#2c4574"/>
<line x1="126.2" y1="640.6" x2="231.8" y2="595.4" stroke="#000" stroke-width="1.8" />
<text x="195.80" y="631.3" font-size="8.2" fill="#1c1c1c" stroke="#1c1c1c" stroke-width="0.25" textLength="27.03" lengthAdjust="spacingAndGlyphs">r<tspan font-size="5.5" dy="-3.2">2</tspan><tspan dy="3.2"> = 0.2</tspan></text>
<text x="293.20" y="529.6" font-size="12" font-weight="bold" fill="#111" stroke="#111" stroke-width="0.25">E</text>
<text x="426.55" y="528.3" font-size="10.3" text-anchor="middle" fill="#1c1c1c" stroke="#1c1c1c" stroke-width="0.25" textLength="120.29" lengthAdjust="spacingAndGlyphs">Jak2 protein in BM lysates</text>
<line x1="340.4" y1="548.3" x2="340.4" y2="667.6" stroke="#111" stroke-width="1.3" />
<line x1="338" y1="667.1" x2="512.8" y2="667.1" stroke="#111" stroke-width="1.4" />
<line x1="337.7" y1="667.1" x2="340.4" y2="667.1" stroke="#111" stroke-width="1.1" />
<text x="334.60" y="670.3000000000001" font-size="9" text-anchor="end" fill="#1c1c1c" stroke="#1c1c1c" stroke-width="0.25">0</text>
<line x1="337.7" y1="638.725" x2="340.4" y2="638.725" stroke="#111" stroke-width="1.1" />
<line x1="337.7" y1="610.35" x2="340.4" y2="610.35" stroke="#111" stroke-width="1.1" />
<text x="334.60" y="613.5500000000001" font-size="9" text-anchor="end" fill="#1c1c1c" stroke="#1c1c1c" stroke-width="0.25">1</text>
<line x1="337.7" y1="581.975" x2="340.4" y2="581.975" stroke="#111" stroke-width="1.1" />
<line x1="337.7" y1="553.6" x2="340.4" y2="553.6" stroke="#111" stroke-width="1.1" />
<text x="334.60" y="556.8000000000001" font-size="9" text-anchor="end" fill="#1c1c1c" stroke="#1c1c1c" stroke-width="0.25">2</text>
<text transform="translate(323.8,608.4) rotate(-90)" font-size="9.3" text-anchor="middle" fill="#1c1c1c" stroke="#1c1c1c" stroke-width="0.25" textLength="78.6" lengthAdjust="spacingAndGlyphs">fold changes vs. WT</text>
<rect x="355.8" y="611.2" width="27.2" height="55.89999999999998" fill="#000"/>
<line x1="369.4" y1="611.2" x2="369.4" y2="605.2" stroke="#000" stroke-width="1.3" />
<line x1="365" y1="605.2" x2="379.5" y2="605.2" stroke="#000" stroke-width="1.6" />
<rect x="412.4" y="587" width="27.3" height="80.10000000000002" fill="#a3072b"/>
<line x1="426.2" y1="587" x2="426.2" y2="570.3" stroke="#111" stroke-width="1.3" />
<line x1="415.6" y1="570.3" x2="436.2" y2="570.3" stroke="#111" stroke-width="1.6" />
<rect x="469.2" y="563.5" width="26.8" height="103.60000000000002" fill="#2f4c7e"/>
<line x1="472.6" y1="563" x2="492.7" y2="563" stroke="#111" stroke-width="1.4" />
<line x1="369.3" y1="550.8" x2="482.7" y2="550.8" stroke="#111" stroke-width="1.4" />
<line x1="369.3" y1="563.5" x2="426.6" y2="563.5" stroke="#111" stroke-width="1.4" />
<circle cx="424.9" cy="543.2" r="1.25" fill="#111"/>
<circle cx="396.7" cy="557.6" r="1.25" fill="#111"/>
<text x="369.58" y="678" font-size="8.4" text-anchor="middle" fill="#1c1c1c" stroke="#1c1c1c" stroke-width="0.25" textLength="12.83" lengthAdjust="spacingAndGlyphs">WT</text>
<text x="426.20" y="678" font-size="9" text-anchor="middle" font-style="italic" fill="#8c1f45" stroke="#8c1f45" stroke-width="0.25" textLength="18.74" lengthAdjust="spacingAndGlyphs">Ex12</text>
<text x="482.18" y="678" font-size="9" text-anchor="middle" font-style="italic" fill="#4a5475" stroke="#4a5475" stroke-width="0.25" textLength="25.42" lengthAdjust="spacingAndGlyphs">V617F</text>
<line x1="346.3" y1="684" x2="398" y2="684" stroke="#4a4a4a" stroke-width="1.6" />
<line x1="403.8" y1="684" x2="449.8" y2="684" stroke="#94505f" stroke-width="1.6" />
<line x1="456" y1="684" x2="506" y2="684" stroke="#6e7688" stroke-width="1.6" />
<text x="343.10" y="705.3" font-size="9.011" text-anchor="end" fill="#1c1c1c" stroke="#1c1c1c" stroke-width="0.25">anti-Jak2 (Imgenex)</text>
<text x="343.10" y="720.0" font-size="9.009" text-anchor="end" fill="#1c1c1c" stroke="#1c1c1c" stroke-width="0.25">anti-Jak2 (Millipore)</text>
<text x="341.50" y="734.6" font-size="9.112" text-anchor="end" fill="#1c1c1c" stroke="#1c1c1c" stroke-width="0.25">anti-beta-actin</text>
<defs><filter id="bl" x="-20%" y="-60%" width="140%" height="220%"><feGaussianBlur stdDeviation="0.85"/></filter><filter id="bl2" x="-20%" y="-60%" width="140%" height="220%"><feGaussianBlur stdDeviation="0.5"/></filter><linearGradient id="r1l1" x1="0" y1="0" x2="0" y2="1"><stop offset="0" stop-color="#e2e2e2"/><stop offset="0.1" stop-color="#8e8e8e"/><stop offset="0.2" stop-color="#7a7a7a"/><stop offset="0.35" stop-color="#bcbcbc"/><stop offset="0.55" stop-color="#cecece"/><stop offset="0.72" stop-color="#747474"/><stop offset="0.82" stop-color="#565656"/><stop offset="0.93" stop-color="#b4b4b4"/><stop offset="1" stop-color="#e8e8e8"/></linearGradient><linearGradient id="r1l2" x1="0" y1="0" x2="0" y2="1"><stop offset="0" stop-color="#e8e8e8"/><stop offset="0.1" stop-color="#a8a8a8"/><stop offset="0.2" stop-color="#9a9a9a"/><stop offset="0.35" stop-color="#cecece"/><stop offset="0.55" stop-color="#dadada"/><stop offset="0.72" stop-color="#8a8a8a"/><stop offset="0.82" stop-color="#666666"/><stop offset="0.93" stop-color="#bcbcbc"/><stop offset="1" stop-color="#ececec"/></linearGradient><linearGradient id="r1l3" x1="0" y1="0" x2="0" y2="1"><stop offset="0" stop-color="#e6e6e6"/><stop offset="0.12" stop-color="#b4b4b4"/><stop offset="0.22" stop-color="#a8a8a8"/><stop offset="0.38" stop-color="#d0d0d0"/><stop offset="0.52" stop-color="#9a9a9a"/><stop offset="0.68" stop-color="#3a3a3a"/><stop offset="0.8" stop-color="#5a5a5a"/><stop offset="0.92" stop-color="#b8b8b8"/><stop offset="1" stop-color="#eaeaea"/></linearGradient><linearGradient id="r1l4" x1="0" y1="0" x2="0" y2="1"><stop offset="0" stop-color="#d8d8d8"/><stop offset="0.12" stop-color="#909090"/><stop offset="0.24" stop-color="#7e7e7e"/><stop offset="0.38" stop-color="#a8a8a8"/><stop offset="0.5" stop-color="#3a3a3a"/><stop offset="0.62" stop-color="#0e0e0e"/><stop offset="0.78" stop-color="#161616"/><stop offset="0.9" stop-color="#8a8a8a"/><stop offset="1" stop-color="#e2e2e2"/></linearGradient><linearGradient id="r1l5" x1="0" y1="0" x2="0" y2="1"><stop offset="0" stop-color="#c0c0c0"/><stop offset="0.12" stop-color="#3a3a3a"/><stop offset="0.25" stop-color="#1e1e1e"/><stop offset="0.4" stop-color="#5a5a5a"/><stop offset="0.52" stop-color="#3a3a3a"/><stop offset="0.64" stop-color="#0e0e0e"/><stop offset="0.8" stop-color="#161616"/><stop offset="0.92" stop-color="#8a8a8a"/><stop offset="1" stop-color="#dcdcdc"/></linearGradient><linearGradient id="r1l6" x1="0" y1="0" x2="0" y2="1"><stop offset="0" stop-color="#b8b8b8"/><stop offset="0.1" stop-color="#262626"/><stop offset="0.3" stop-color="#0e0e0e"/><stop offset="0.48" stop-color="#2e2e2e"/><stop offset="0.66" stop-color="#0c0c0c"/><stop offset="0.86" stop-color="#3a3a3a"/><stop offset="1" stop-color="#d8d8d8"/></linearGradient><linearGradient id="r1l3h" x1="0" y1="0" x2="1" y2="0"><stop offset="0" stop-color="#ffffff"/><stop offset="0.5" stop-color="#ffffff"/><stop offset="1" stop-color="#ffffff"/></linearGradient><linearGradient id="r2a" x1="0" y1="0" x2="0" y2="1"><stop offset="0" stop-color="#e4e4e4"/><stop offset="0.2" stop-color="#5a5a5a"/><stop offset="0.35" stop-color="#1c1c1c"/><stop offset="0.65" stop-color="#202020"/><stop offset="0.82" stop-color="#6a6a6a"/><stop offset="1" stop-color="#e8e8e8"/></linearGradient><linearGradient id="r2b" x1="0" y1="0" x2="0" y2="1"><stop offset="0" stop-color="#d4d4d4"/><stop offset="0.12" stop-color="#3a3a3a"/><stop offset="0.25" stop-color="#0e0e0e"/><stop offset="0.5" stop-color="#262626"/><stop offset="0.75" stop-color="#0e0e0e"/><stop offset="0.9" stop-color="#505050"/><stop offset="1" stop-color="#dcdcdc"/></linearGradient><linearGradient id="r2c" x1="0" y1="0" x2="0" y2="1"><stop offset="0" stop-color="#e0e0e0"/><stop offset="0.2" stop-color="#303030"/><stop offset="0.3" stop-color="#0a0a0a"/><stop offset="0.7" stop-color="#0a0a0a"/><stop offset="0.88" stop-color="#505050"/><stop offset="1" stop-color="#e4e4e4"/></linearGradient><linearGradient id="r3" x1="0" y1="0" x2="0" y2="1"><stop offset="0" stop-color="#ffffff"/><stop offset="0.5" stop-color="#f0f0f0"/><stop offset="1" stop-color="#ffffff"/></linearGradient></defs>
<g filter="url(#bl2)">
<rect x="347.5" y="693.3" width="20.399999999999977" height="11.8" fill="url(#r1l1)"/>
<rect x="373.8" y="693.3" width="24.399999999999977" height="11.8" fill="url(#r1l2)"/>
<rect x="403.8" y="693.3" width="22.099999999999966" height="11.8" fill="url(#r1l3)"/>
<rect x="430.7" y="693.3" width="19.100000000000023" height="11.8" fill="url(#r1l4)"/>
<rect x="455.7" y="693.3" width="20.19999999999999" height="11.8" fill="url(#r1l5)"/>
<rect x="481.4" y="693.3" width="20.400000000000034" height="11.8" fill="url(#r1l6)"/>
<polygon points="404.5,701.2 425.5,699.6 425.5,703.6 404.5,702.6" fill="#1a1a1a" opacity="0.75"/>
</g>
<g filter="url(#bl2)">
<rect x="347.5" y="710.2" width="20.399999999999977" height="12.3" fill="#e3e3e3"/>
<rect x="373.8" y="710.2" width="24.399999999999977" height="12.3" fill="#e3e3e3"/>
<rect x="403.8" y="710.2" width="22.099999999999966" height="12.3" fill="#e3e3e3"/>
<rect x="430.7" y="710.2" width="19.100000000000023" height="12.3" fill="#e3e3e3"/>
<rect x="455.7" y="710.2" width="20.19999999999999" height="12.3" fill="#e3e3e3"/>
<rect x="481.4" y="710.2" width="20.400000000000034" height="12.3" fill="#e3e3e3"/>
</g>
<g filter="url(#bl)">
<path d="M349.3,713.1 Q358.25,714.5 367.2,713.1 Q368.3,716.2 367.2,719.3 Q358.25,718.3 349.3,719.3 Q348.2,716.2 349.3,713.1 Z" fill="#1e1e1e"/>
<path d="M375.2,714.3 Q386.29999999999995,715.6999999999999 397.4,714.3 Q398.5,717.0999999999999 397.4,719.9 Q386.29999999999995,718.9 375.2,719.9 Q374.09999999999997,717.0999999999999 375.2,714.3 Z" fill="#1e1e1e"/>
<path d="M405.40000000000003,712.3 Q415.65,713.6999999999999 425.9,712.3 Q427.0,715.5 425.9,718.7 Q415.65,717.7 405.40000000000003,718.7 Q404.3,715.5 405.40000000000003,712.3 Z" fill="#1e1e1e"/>
<rect x="431.5" y="711.3" width="19.30000000000001" height="9.0" rx="1.5" fill="url(#r2b)"/>
<rect x="456.0" y="712.4" width="20.5" height="8.600000000000023" rx="1.5" fill="url(#r2b)"/>
<rect x="481.4" y="713.0" width="21.200000000000045" height="9.600000000000023" rx="1.5" fill="url(#r2c)"/>
</g>
<g filter="url(#bl)">
<rect x="349.6" y="734.5" width="18.899999999999977" height="5" fill="#ececec"/>
<rect x="376.2" y="734.5" width="17.600000000000023" height="5" fill="#ececec"/>
<rect x="401.6" y="734.5" width="19.19999999999999" height="5" fill="#ececec"/>
<rect x="428.9" y="734.5" width="19.30000000000001" height="5" fill="#ececec"/>
<rect x="456.2" y="734.5" width="19.80000000000001" height="5" fill="#ececec"/>
<rect x="481.6" y="734.5" width="21.19999999999999" height="5" fill="#ececec"/>
<polygon points="348.6,731.85 369.5,731.55 369.5,735.25 348.6,736.15" fill="#111" stroke="#111" stroke-width="0.6" stroke-linejoin="round"/>
<polygon points="375.2,730.5 394.8,730.6999999999999 394.8,733.9 375.2,734.3" fill="#111" stroke="#111" stroke-width="0.6" stroke-linejoin="round"/>
<polygon points="400.6,729.9 421.8,729.9999999999999 421.8,733.6 400.6,734.1" fill="#111" stroke="#111" stroke-width="0.6" stroke-linejoin="round"/>
<polygon points="427.9,729.75 449.2,729.9499999999999 449.2,733.0500000000001 427.9,733.45" fill="#111" stroke="#111" stroke-width="0.6" stroke-linejoin="round"/>
<polygon points="455.2,729.4 477.0,729.6999999999999 477.0,733.5000000000001 455.2,733.8000000000001" fill="#111" stroke="#111" stroke-width="0.6" stroke-linejoin="round"/>
<polygon points="480.6,728.8000000000001 503.8,729.1 503.8,734.1 480.6,734.4" fill="#111" stroke="#111" stroke-width="0.6" stroke-linejoin="round"/>
</g>
<rect x="0.5" y="0.5" width="519" height="746" fill="none" stroke="#111" stroke-width="1"/>
</svg></body></html>
